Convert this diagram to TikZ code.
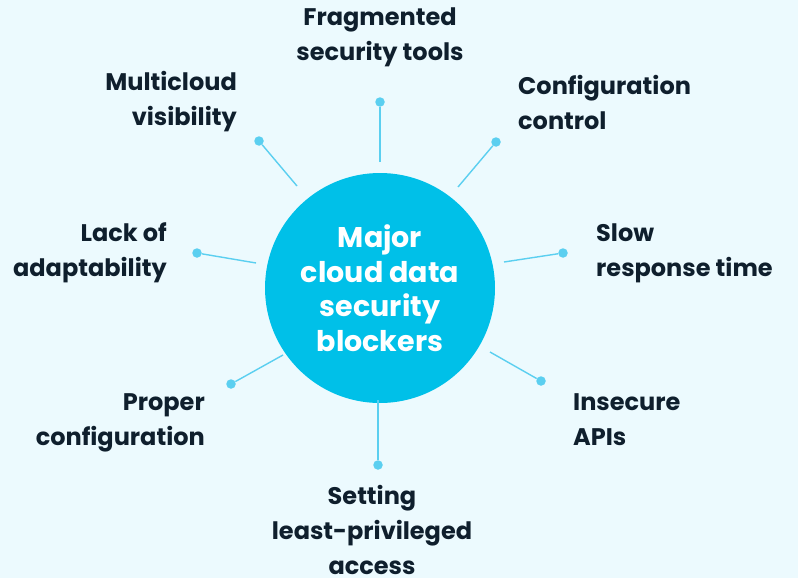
\documentclass[tikz,border=0pt]{standalone}
\usepackage{fontspec}
\setmainfont{Poppins}
\definecolor{bgblue}{HTML}{ECFAFE}
\definecolor{hubcyan}{HTML}{00C0E8}
\definecolor{spokecyan}{HTML}{5BCFF0}
\definecolor{inkdark}{HTML}{0F1F2D}
\begin{document}
\begin{tikzpicture}[x=1pt, y=-1pt,
    blocker/.style={inner sep=0pt, text=inkdark, font=\fontsize{24}{35}\selectfont\bfseries},
    spokedot/.style={circle, fill=spokecyan, inner sep=0pt, minimum size=9.5pt},
    spoke/.style={spokecyan, line width=1.4pt}]
  \fill[bgblue] (0,0) rectangle (798,578);
  \useasboundingbox (0,0) rectangle (798,578);

  % hub
  \node[circle, fill=hubcyan, minimum size=230pt, inner sep=0pt] (hub) at (380,288) {};
  \node[text=white, align=center, font=\fontsize{28.5}{34.5}\selectfont\bfseries] (title) at (380,288)
    {Major\\cloud data\\security\\blockers};

  % outer ends of the spokes
  \node[spokedot] (dN)  at (380,102) {};
  \node[spokedot] (dNE) at (496,142) {};
  \node[spokedot] (dE)  at (563,253) {};
  \node[spokedot] (dSE) at (541,381) {};
  \node[spokedot] (dS)  at (378,465) {};
  \node[spokedot] (dSW) at (231,384) {};
  \node[spokedot] (dW)  at (197,253) {};
  \node[spokedot] (dNW) at (259,141) {};

  % inner ends of the spokes
  \coordinate (sN)  at (380,162);
  \coordinate (sNE) at (458,187);
  \coordinate (sE)  at (504,262);
  \coordinate (sSE) at (490,352);
  \coordinate (sS)  at (378,400);
  \coordinate (sSW) at (283,355);
  \coordinate (sW)  at (256,263);
  \coordinate (sNW) at (297,186);

  \foreach \d in {N,NE,E,SE,S,SW,W,NW}
    \draw[spoke] (s\d) -- (d\d);

  % blockers
  \node[blocker, align=center] (frag) at (380,37) {Fragmented\\security tools};
  \node[blocker, align=left, anchor=west] (conf) at (518,102) {Configuration\\control};
  \node[blocker, align=left, anchor=west] (slow) at (596,253) {Slow\\response time};
  \node[blocker, align=left, anchor=west] (apis) at (573,420) {Insecure\\APIs};
  \node[blocker, align=center] (least) at (372,530) {Setting\\least-privileged\\access};
  \node[blocker, align=right, anchor=east] (proper) at (205,423) {Proper\\configuration};
  \node[blocker, align=right, anchor=east] (adapt) at (167,253) {Lack of\\adaptability};
  \node[blocker, align=right, anchor=east] (multi) at (237,102) {Multicloud\\visibility};
\end{tikzpicture}
\end{document}
